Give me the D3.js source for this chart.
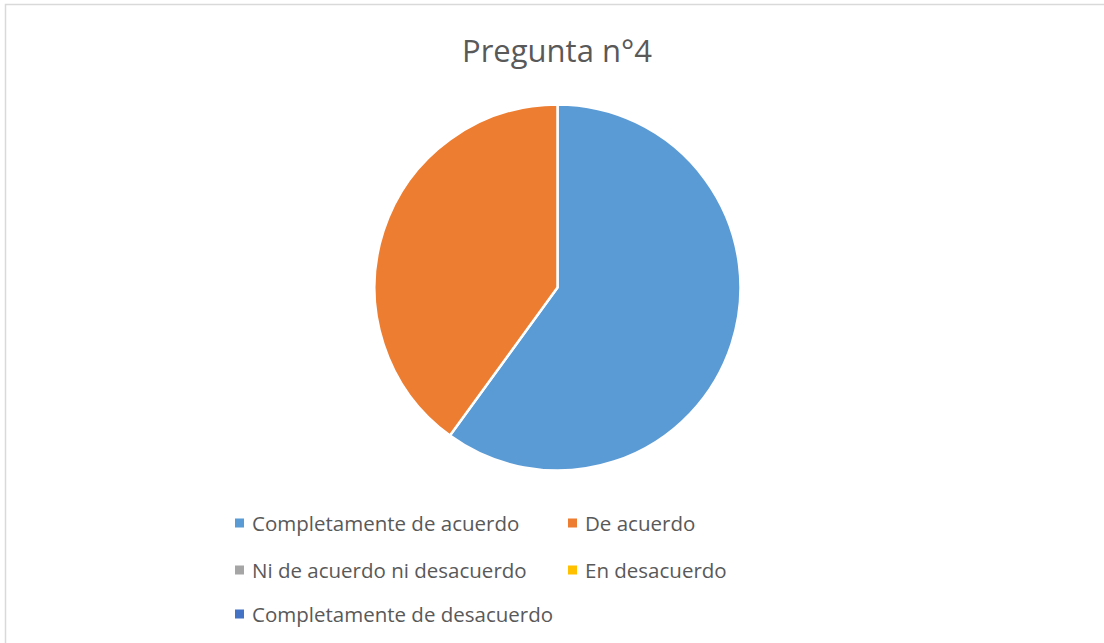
<!DOCTYPE html>
<html>
<head>
<meta charset="utf-8">
<script src="https://cdn.jsdelivr.net/npm/d3@7"></script>
<style>
  body { margin: 0; background: #fff; }
  svg { display: block; }
</style>
</head>
<body>
<div id="chart"></div>
<script>
// data
var categories = ['Completamente de acuerdo', 'De acuerdo', 'Ni de acuerdo ni desacuerdo', 'En desacuerdo', 'Completamente de desacuerdo'];
var values = [6, 4, 0, 0, 0];
var colors = ['#5B9BD5', '#ED7D31', '#A5A5A5', '#FFC000', '#4472C4'];

var width = 1104, height = 643;
var tcolor = '#595959';
var font = "'Open Sans', 'Noto Sans', sans-serif";

var svg = d3.select('#chart').append('svg')
  .attr('width', width)
  .attr('height', height);

// chart area border (only top and left visible in the picture)
svg.append('rect')
  .attr('x', 5.5).attr('y', 4.5)
  .attr('width', width + 10).attr('height', height + 10)
  .attr('fill', '#fff')
  .attr('stroke', '#d9d9d9')
  .attr('stroke-width', 1.5);

svg.append('text')
  .attr('x', 557).attr('y', 62)
  .attr('text-anchor', 'middle')
  .attr('font-family', font)
  .attr('font-size', 31)
  .attr('fill', tcolor)
  .text('Pregunta n°4');

var cx = 557.5, cy = 287.5, r = 183;

var pie = d3.pie().sort(null).value(function(d) { return d; });
var arc = d3.arc().innerRadius(0).outerRadius(r);

var g = svg.append('g').attr('transform', 'translate(' + cx + ',' + cy + ')');
g.selectAll('path')
  .data(pie(values).filter(function(d) { return d.value > 0; }))
  .enter().append('path')
  .attr('d', arc)
  .attr('fill', function(d) { return colors[d.index]; })
  .attr('stroke', '#fff')
  .attr('stroke-width', 2.5)
  .attr('stroke-linejoin', 'round');

// legend: two columns, row-major
var colX = [235, 568];
var rowY = [523, 570, 614];
var leg = svg.selectAll('.leg')
  .data(categories)
  .enter().append('g')
  .attr('class', 'leg')
  .attr('transform', function(d, i) {
    return 'translate(' + colX[i % 2] + ',' + rowY[Math.floor(i / 2)] + ')';
  });

leg.append('rect')
  .attr('x', 0).attr('y', -4.5)
  .attr('width', 9).attr('height', 9)
  .attr('fill', function(d, i) { return colors[i]; });

leg.append('text')
  .attr('x', 17).attr('y', 8)
  .attr('font-family', font)
  .attr('font-size', 20.5)
  .attr('fill', tcolor)
  .text(function(d) { return d; });
</script>
</body>
</html>
